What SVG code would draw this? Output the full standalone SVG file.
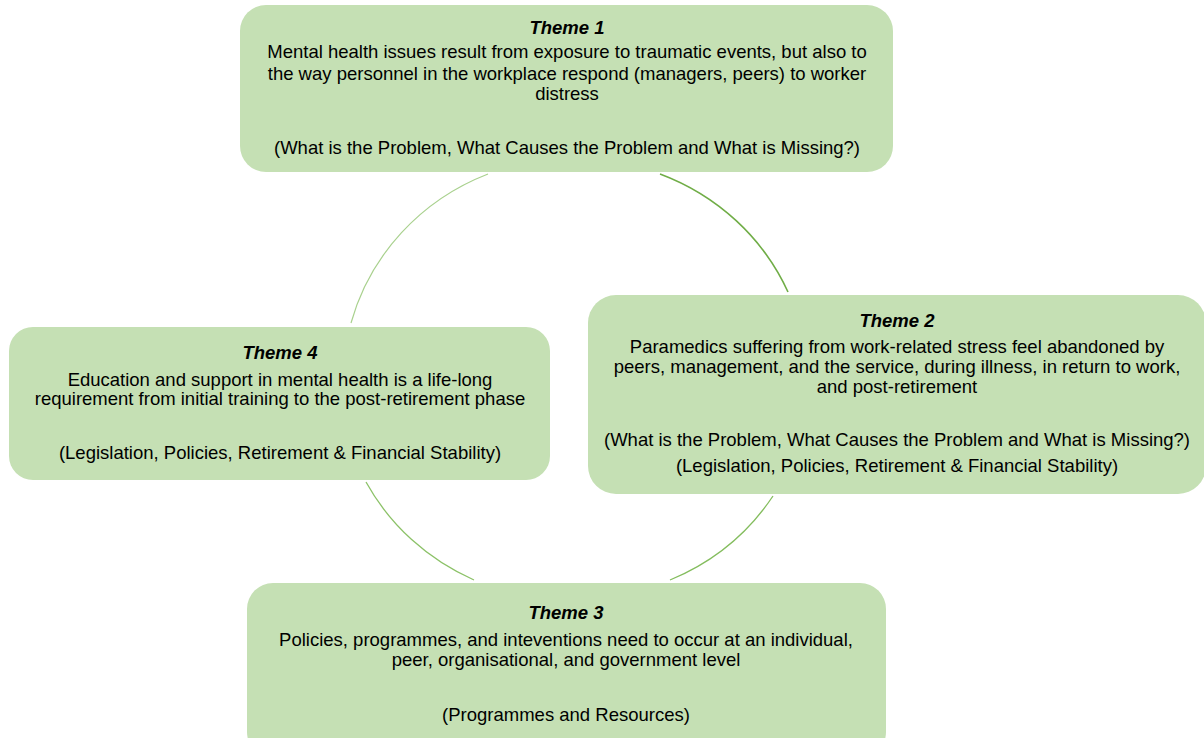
<svg xmlns="http://www.w3.org/2000/svg" width="1204" height="738" viewBox="0 0 1204 738">
<style>
.box{fill:#c5e0b4;stroke:none}
text{font-family:"Liberation Sans",Arial,sans-serif;font-size:18.5px;fill:#000;text-anchor:middle}
.t{font-weight:bold;font-style:italic}
.arc{fill:none}
</style>
<rect width="1204" height="738" fill="#fff"/>
<g id="connectors">
<path class="arc" d="M351,323 A231,223 0 0 1 488,174" stroke="#a9d18e" stroke-width="1.2"/>
<path class="arc" d="M660,174 A231,223 0 0 1 788,292" stroke="#70ad47" stroke-width="1.6"/>
<path class="arc" d="M773,496 A231,223 0 0 1 670,580" stroke="#84bd5e" stroke-width="1.3"/>
<path class="arc" d="M474,580 A231,223 0 0 1 366,482" stroke="#8cc268" stroke-width="1.3"/>
</g>
<g id="theme1">
<rect class="box" x="240" y="5" width="653" height="167" rx="26"/>
<text class="t" x="567" y="34">Theme 1</text>
<text x="567" y="58">Mental health issues result from exposure to traumatic events, but also to</text>
<text x="567" y="80">the way personnel in the workplace respond (managers, peers) to worker</text>
<text x="567" y="100">distress</text>
<text x="567" y="154">(What is the Problem, What Causes the Problem and What is Missing?)</text>
</g>
<g id="theme2">
<rect class="box" x="588" y="295" width="618" height="199" rx="28"/>
<text class="t" x="897" y="327">Theme 2</text>
<text x="897" y="353">Paramedics suffering from work-related stress feel abandoned by</text>
<text x="897" y="373">peers, management, and the service, during illness, in return to work,</text>
<text x="897" y="393">and post-retirement</text>
<text x="897" y="446">(What is the Problem, What Causes the Problem and What is Missing?)</text>
<text x="897" y="472">(Legislation, Policies, Retirement &amp; Financial Stability)</text>
</g>
<g id="theme4">
<rect class="box" x="9" y="327" width="541" height="153" rx="24"/>
<text class="t" x="280" y="359">Theme 4</text>
<text x="280" y="386">Education and support in mental health is a life-long</text>
<text x="280" y="405">requirement from initial training to the post-retirement phase</text>
<text x="280" y="459">(Legislation, Policies, Retirement &amp; Financial Stability)</text>
</g>
<g id="theme3">
<rect class="box" x="247" y="583" width="639" height="175" rx="26"/>
<text class="t" x="566" y="619">Theme 3</text>
<text x="566" y="646">Policies, programmes, and inteventions need to occur at an individual,</text>
<text x="566" y="666">peer, organisational, and government level</text>
<text x="566" y="721">(Programmes and Resources)</text>
</g>
</svg>
